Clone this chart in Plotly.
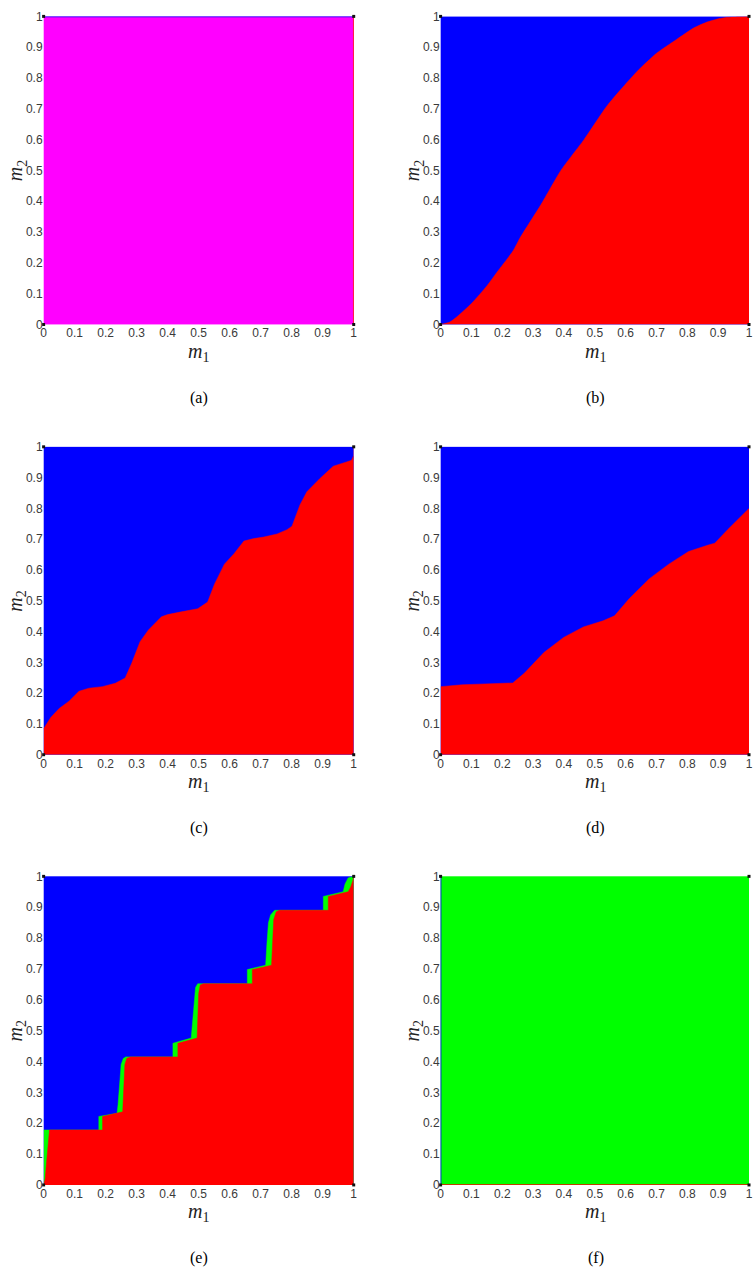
import plotly.graph_objects as go

# ---------------- data ----------------
tick_vals = [0, 0.1, 0.2, 0.3, 0.4, 0.5, 0.6, 0.7, 0.8, 0.9, 1]
tick_text = ["0", "0.1", "0.2", "0.3", "0.4", "0.5", "0.6", "0.7", "0.8", "0.9", "1"]
panel_labels = ["(a)", "(b)", "(c)", "(d)", "(e)", "(f)"]

# (b) red/blue boundary
b_x = [0, 0.03, 0.053, 0.1, 0.15, 0.187, 0.235, 0.257, 0.326, 0.39, 0.465, 0.54, 0.636, 0.7, 0.765,
       0.82, 0.86, 0.9, 0.93, 0.97, 1.0]
b_y = [0, 0.008, 0.025, 0.068, 0.125, 0.175, 0.239, 0.28, 0.39, 0.5, 0.6, 0.71, 0.82, 0.88, 0.925,
       0.962, 0.98, 0.992, 0.997, 0.999, 1.0]

# (c) red/blue boundary
c_x = [0, 0.023, 0.05, 0.082, 0.114, 0.146, 0.189, 0.231, 0.263, 0.284, 0.311, 0.338, 0.38, 0.40,
       0.444, 0.497, 0.529, 0.551, 0.583, 0.614, 0.646, 0.678, 0.71, 0.753, 0.785, 0.801, 0.827,
       0.849, 0.891, 0.934, 0.977, 0.993, 1.0, 1.0]
c_y = [0.084, 0.121, 0.15, 0.174, 0.206, 0.216, 0.221, 0.232, 0.249, 0.297, 0.367, 0.405, 0.448, 0.455,
       0.464, 0.474, 0.496, 0.554, 0.619, 0.653, 0.694, 0.702, 0.707, 0.717, 0.731, 0.742, 0.812,
       0.854, 0.897, 0.937, 0.951, 0.956, 0.972, 1.0]

# (d) red/blue boundary
d_x = [0, 0.069, 0.144, 0.234, 0.272, 0.335, 0.399, 0.463, 0.527, 0.564, 0.612, 0.676, 0.74,
       0.804, 0.868, 0.889, 0.932, 0.974, 1.0]
d_y = [0.221, 0.227, 0.23, 0.233, 0.265, 0.332, 0.381, 0.415, 0.435, 0.451, 0.507, 0.571, 0.619,
       0.66, 0.681, 0.687, 0.732, 0.774, 0.80]

# (e) upper edge of the red region
e_red_x = [0, 0.005, 0.01, 0.014, 0.019, 0.19, 0.19, 0.255, 0.258, 0.262, 0.268, 0.28, 0.433, 0.433,
           0.495, 0.497, 0.5, 0.505, 0.515, 0.673, 0.673, 0.735, 0.738, 0.742, 0.75, 0.76, 0.918,
           0.918, 0.982, 0.99, 0.997, 1.0]
e_red_y = [0, 0.02, 0.08, 0.13, 0.178, 0.178, 0.222, 0.237, 0.30, 0.39, 0.41, 0.415, 0.415, 0.459,
           0.476, 0.52, 0.62, 0.648, 0.652, 0.652, 0.698, 0.712, 0.78, 0.86, 0.885, 0.89, 0.89,
           0.935, 0.95, 0.965, 0.985, 1.0]
# (e) upper edge of the green region (lower edge of blue)
e_green_x = [0, 0.178, 0.178, 0.237, 0.24, 0.245, 0.25, 0.257, 0.265, 0.417, 0.417, 0.476, 0.48,
             0.485, 0.49, 0.497, 0.657, 0.657, 0.716, 0.72, 0.725, 0.732, 0.745, 0.902, 0.902,
             0.966, 0.972, 0.982, 1.0]
e_green_y = [0.178, 0.178, 0.222, 0.232, 0.26, 0.33, 0.39, 0.41, 0.415, 0.415, 0.459, 0.476, 0.52,
             0.6, 0.64, 0.652, 0.652, 0.698, 0.712, 0.78, 0.85, 0.875, 0.89, 0.89, 0.935,
             0.95, 0.975, 0.995, 1.0]

# corner tick dots
corner_x = [0, 1, 0, 1]
corner_y = [0, 0, 1, 1]

BLUE, RED, GREEN, MAGENTA = "#0000FF", "#FF0000", "#00FF00", "#FF00FF"

# ---------------- layout geometry (pixels) ----------------
W, H = 753, 1277
col_px = [(41, 354), (441.7, 753)]
row_px = [(9.5, 321), (444.7, 756), (879, 1191)]

fig = go.Figure()

def px_x(p):
    return p / W

def px_y(p):
    return 1 - p / H

sq_x = [0, 1, 1, 0, 0]
sq_y = [0, 0, 1, 1, 0]

TICKFONT = dict(family="Liberation Sans", size=12, color="#3a3a3a")
MATHFONT = dict(family="Liberation Serif", size=20, color="#222222")

panels = [(r, c) for r in range(3) for c in range(2)]

for i, (r, c) in enumerate(panels):
    n = i + 1
    xa = "x" if n == 1 else f"x{n}"
    ya = "y" if n == 1 else f"y{n}"
    xname = "xaxis" if n == 1 else f"xaxis{n}"
    yname = "yaxis" if n == 1 else f"yaxis{n}"
    x0, x1 = col_px[c]
    y0, y1 = row_px[r]
    fig.layout[xname] = dict(domain=[px_x(x0), px_x(x1)], range=[0, 1], anchor=ya,
                             tickvals=tick_vals, ticktext=tick_text, showgrid=False,
                             zeroline=False, showline=False, ticks="", fixedrange=True,
                             tickfont=TICKFONT)
    fig.layout[yname] = dict(domain=[px_y(y1), px_y(y0)], range=[0, 1], anchor=xa,
                             tickvals=tick_vals, ticktext=tick_text, showgrid=False,
                             zeroline=False, showline=False, ticks="", fixedrange=True,
                             tickfont=TICKFONT)

    def add_fill(xs, ys, color, mode="tozeroy", shape="linear", smoothing=1.0):
        fig.add_trace(go.Scatter(x=xs, y=ys, xaxis=xa, yaxis=ya, mode="lines",
                                 line=dict(width=0.5, color=color, shape=shape,
                                           smoothing=smoothing),
                                 fill=mode, fillcolor=color, hoverinfo="skip",
                                 showlegend=False))

    def add_edge(xs, ys, color):
        fig.add_trace(go.Scatter(x=xs, y=ys, xaxis=xa, yaxis=ya, mode="lines",
                                 line=dict(width=1.5, color=color), showlegend=False,
                                 hoverinfo="skip"))

    if n == 1:
        add_fill(sq_x, sq_y, MAGENTA, "toself")
        add_edge([0, 1], [1, 1], BLUE)
        add_edge([1, 1], [0, 1], RED)
    elif n == 2:
        add_fill(sq_x, sq_y, BLUE, "toself")
        add_fill(b_x, b_y, RED, shape="spline", smoothing=0.6)
    elif n == 3:
        add_fill(sq_x, sq_y, BLUE, "toself")
        add_fill(c_x, c_y, RED)
    elif n == 4:
        add_fill(sq_x, sq_y, BLUE, "toself")
        add_fill(d_x, d_y, RED)
    elif n == 5:
        add_fill(sq_x, sq_y, BLUE, "toself")
        add_fill(e_green_x, e_green_y, GREEN)
        add_fill(e_red_x, e_red_y, RED)
    else:
        add_fill(sq_x, sq_y, GREEN, "toself")
        add_edge([0, 0], [0, 1], BLUE)
        add_edge([0, 1], [0, 0], RED)

    fig.add_trace(go.Scatter(x=corner_x, y=corner_y, xaxis=xa, yaxis=ya, mode="markers",
                             marker=dict(symbol="square", size=3, color="#111111"),
                             cliponaxis=False, showlegend=False, hoverinfo="skip"))

    cx = (x0 + 354) / 2 if c == 0 else (441.7 + 754.7) / 2
    cy = (y0 + y1) / 2
    fig.add_annotation(x=px_x(cx), y=px_y(y1 + 28), xref="paper", yref="paper",
                       text="<i>m</i><sub>1</sub>", showarrow=False, font=MATHFONT,
                       xanchor="center", yanchor="middle")
    fig.add_annotation(x=px_x(x0 - 27), y=px_y(cy), xref="paper", yref="paper",
                       text="<i>m</i><sub>2</sub>", showarrow=False, textangle=-90,
                       font=MATHFONT, xanchor="center", yanchor="middle")
    fig.add_annotation(x=px_x(cx), y=px_y(y1 + 74), xref="paper", yref="paper",
                       text=panel_labels[i], showarrow=False,
                       font=dict(family="Liberation Serif", size=16, color="#000000"),
                       xanchor="center", yanchor="middle")

fig.update_layout(width=W, height=H, margin=dict(l=0, r=0, t=0, b=0),
                  paper_bgcolor="white", plot_bgcolor="white", showlegend=False)

fig.write_html("out.html", config={"displayModeBar": False},
               post_script="document.body.style.margin='0';document.body.style.padding='0';"
                           "document.body.style.overflow='hidden';")
